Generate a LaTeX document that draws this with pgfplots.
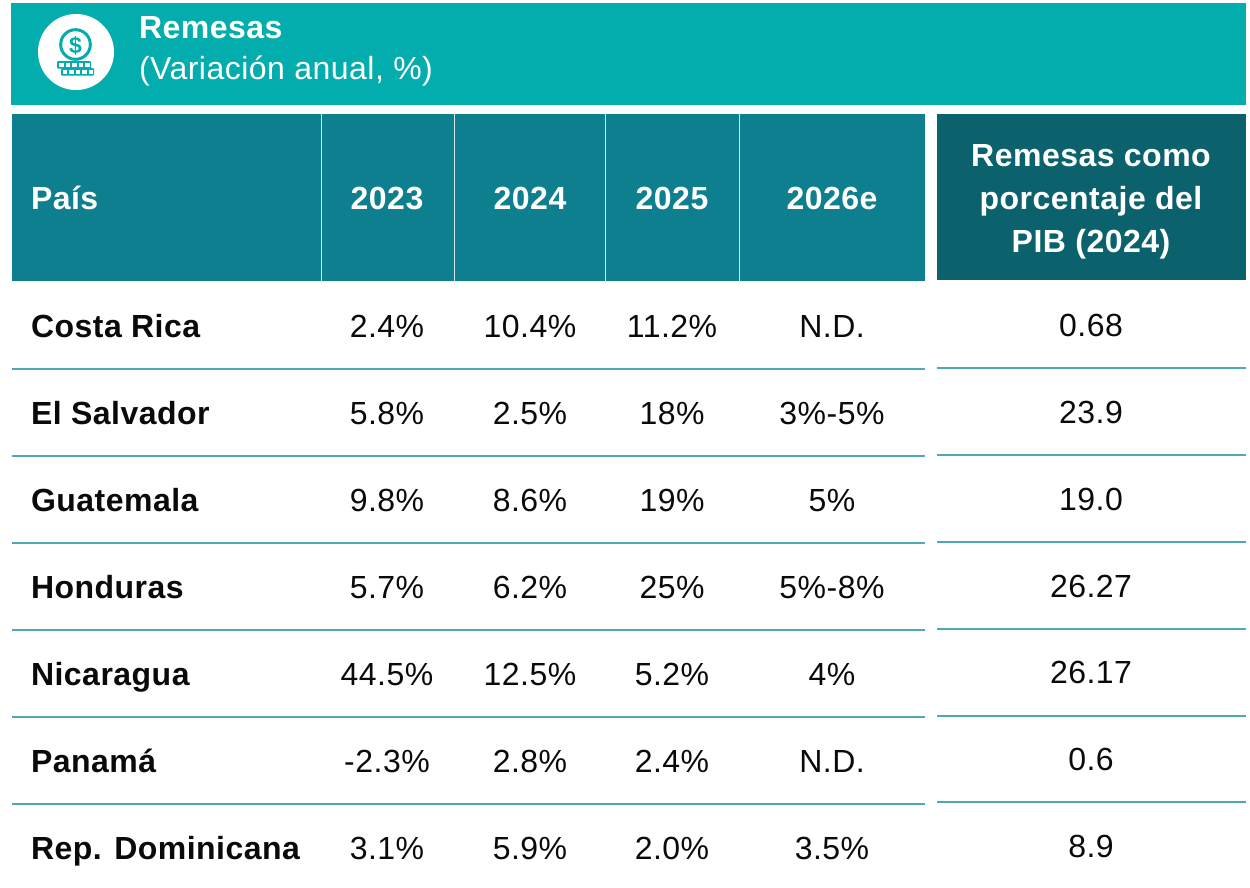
\documentclass[border=0pt]{standalone}
\usepackage{fontspec}
\setmainfont[LetterSpace=1.5]{Liberation Sans}
\usepackage{pgfplots}
\usepackage{pgfplotstable}
\pgfplotsset{compat=1.18}

\definecolor{banner}{HTML}{03ADAD}
\definecolor{head}{HTML}{0E7F8E}
\definecolor{headdark}{HTML}{0B626C}
\definecolor{rule}{HTML}{4FA8B4}
\definecolor{sep}{HTML}{D5E6E9}
\definecolor{ink}{HTML}{0A0A0A}
\newcommand{\pc}{\%}

% y = text baseline in pixels
\pgfplotstableread[col sep=semicolon]{
y;pais;a;b;c;d
337;Costa Rica;2.4\pc;10.4\pc;11.2\pc;N.D.
424;El Salvador;5.8\pc;2.5\pc;18\pc;3\pc-5\pc
511;Guatemala;9.8\pc;8.6\pc;19\pc;5\pc
598;Honduras;5.7\pc;6.2\pc;25\pc;5\pc-8\pc
685;Nicaragua;44.5\pc;12.5\pc;5.2\pc;4\pc
772;Panamá;-2.3\pc;2.8\pc;2.4\pc;N.D.
859;Rep. Dominicana;3.1\pc;5.9\pc;2.0\pc;3.5\pc
}\rows

\pgfplotstableread[col sep=semicolon]{
y;pib
336;0.68
423;23.9
510;19.0
597;26.27
683;26.17
770;0.6
857;8.9
}\pib

\pgfplotstableread[col sep=semicolon]{
x;y;t
387;209;2023
530;209;2024
672;209;2025
832;209;2026e
1091;166;Remesas como
1091;209;porcentaje del
1091;252;PIB (2024)
}\heads

\pgfplotstableread[col sep=semicolon]{
x;y;t
31;209;País
139;38;Remesas
}\headl

\pgfplotstableread[col sep=semicolon]{
x;y;t
139;79;(Variación anual, \pc)
}\bannerb

\begin{document}
\begin{tikzpicture}[x=1pt,y=1pt]
\path[use as bounding box] (0,0) rectangle (1250,887);
\begin{axis}[
    at={(0,0)}, anchor=south west,
    scale only axis, width=1250pt, height=887pt,
    xmin=0, xmax=1250, ymin=0, ymax=887, y dir=reverse,
    hide axis, clip=false,
    every axis plot/.append style={mark=none},
    cell/.style={draw=none, nodes near coords, point meta=explicit symbolic,
        every node near coord/.append style={anchor=base, inner sep=0pt, outer sep=0pt, text=ink,
            font=\fontsize{32}{36}\selectfont}},
    cellL/.style={cell, every node near coord/.append style={anchor=base west}},
    cellB/.style={every node near coord/.append style={font=\fontsize{32}{36}\selectfont\bfseries}},
    cellW/.style={every node near coord/.append style={text=white}},
    hline/.style={draw=rule, line width=1.1pt},
    vline/.style={draw=sep, line width=1pt},
]
% boxes
\addplot[fill=banner, draw=none] coordinates {(11,3)(1246,3)(1246,105)(11,105)} -- cycle;
\addplot[fill=head, draw=none] coordinates {(12,114)(925,114)(925,281)(12,281)} -- cycle;
\addplot[fill=headdark, draw=none] coordinates {(937,114)(1246,114)(1246,280)(937,280)} -- cycle;
% header separators
\addplot[vline] coordinates {(321,114)(321,281)};
\addplot[vline] coordinates {(454,114)(454,281)};
\addplot[vline] coordinates {(605,114)(605,281)};
\addplot[vline] coordinates {(739,114)(739,281)};
% row rules
\addplot[hline] coordinates {(12,369)(925,369)};
\addplot[hline] coordinates {(12,456)(925,456)};
\addplot[hline] coordinates {(12,543)(925,543)};
\addplot[hline] coordinates {(12,630)(925,630)};
\addplot[hline] coordinates {(12,717)(925,717)};
\addplot[hline] coordinates {(12,804)(925,804)};
\addplot[hline] coordinates {(937,368)(1246,368)};
\addplot[hline] coordinates {(937,455)(1246,455)};
\addplot[hline] coordinates {(937,542)(1246,542)};
\addplot[hline] coordinates {(937,629)(1246,629)};
\addplot[hline] coordinates {(937,716)(1246,716)};
\addplot[hline] coordinates {(937,802)(1246,802)};
% icon
\fill[white] (axis cs:76,52) circle[radius=38pt];
\draw[banner, line width=3pt] (axis cs:75.5,44.5) circle[radius=14.8pt];
\node[text=banner, inner sep=0pt, font=\fontsize{23}{23}\selectfont\bfseries] at (axis cs:75.5,45.5) {\$};
\fill[banner, rounded corners=1pt] (axis cs:57,61) rectangle (axis cs:91,68.5);
\fill[banner, rounded corners=1pt] (axis cs:61,68) rectangle (axis cs:94,75.5);
\pgfplotsinvokeforeach{59.3,65.8,72.3,78.8,85.3}{
  \fill[white] (axis cs:#1,62.8) rectangle (axis cs:#1+4.6,66.8);
  \fill[white] (axis cs:#1+3.3,69.8) rectangle (axis cs:#1+7.9,73.8);
}
% banner and header text
\addplot[cell, cellB, cellW] table[x=x, y=y, meta=t] {\heads};
\addplot[cellL, cellB, cellW] table[x=x, y=y, meta=t] {\headl};
\addplot[cellL, cellW] table[x=x, y=y, meta=t] {\bannerb};
% body
\addplot[cellL, cellB] table[x expr=31, y=y, meta=pais] {\rows};
\addplot[cell] table[x expr=387, y=y, meta=a] {\rows};
\addplot[cell] table[x expr=530, y=y, meta=b] {\rows};
\addplot[cell] table[x expr=672, y=y, meta=c] {\rows};
\addplot[cell] table[x expr=832, y=y, meta=d] {\rows};
\addplot[cell] table[x expr=1091, y=y, meta=pib] {\pib};
\end{axis}
\end{tikzpicture}
\end{document}
